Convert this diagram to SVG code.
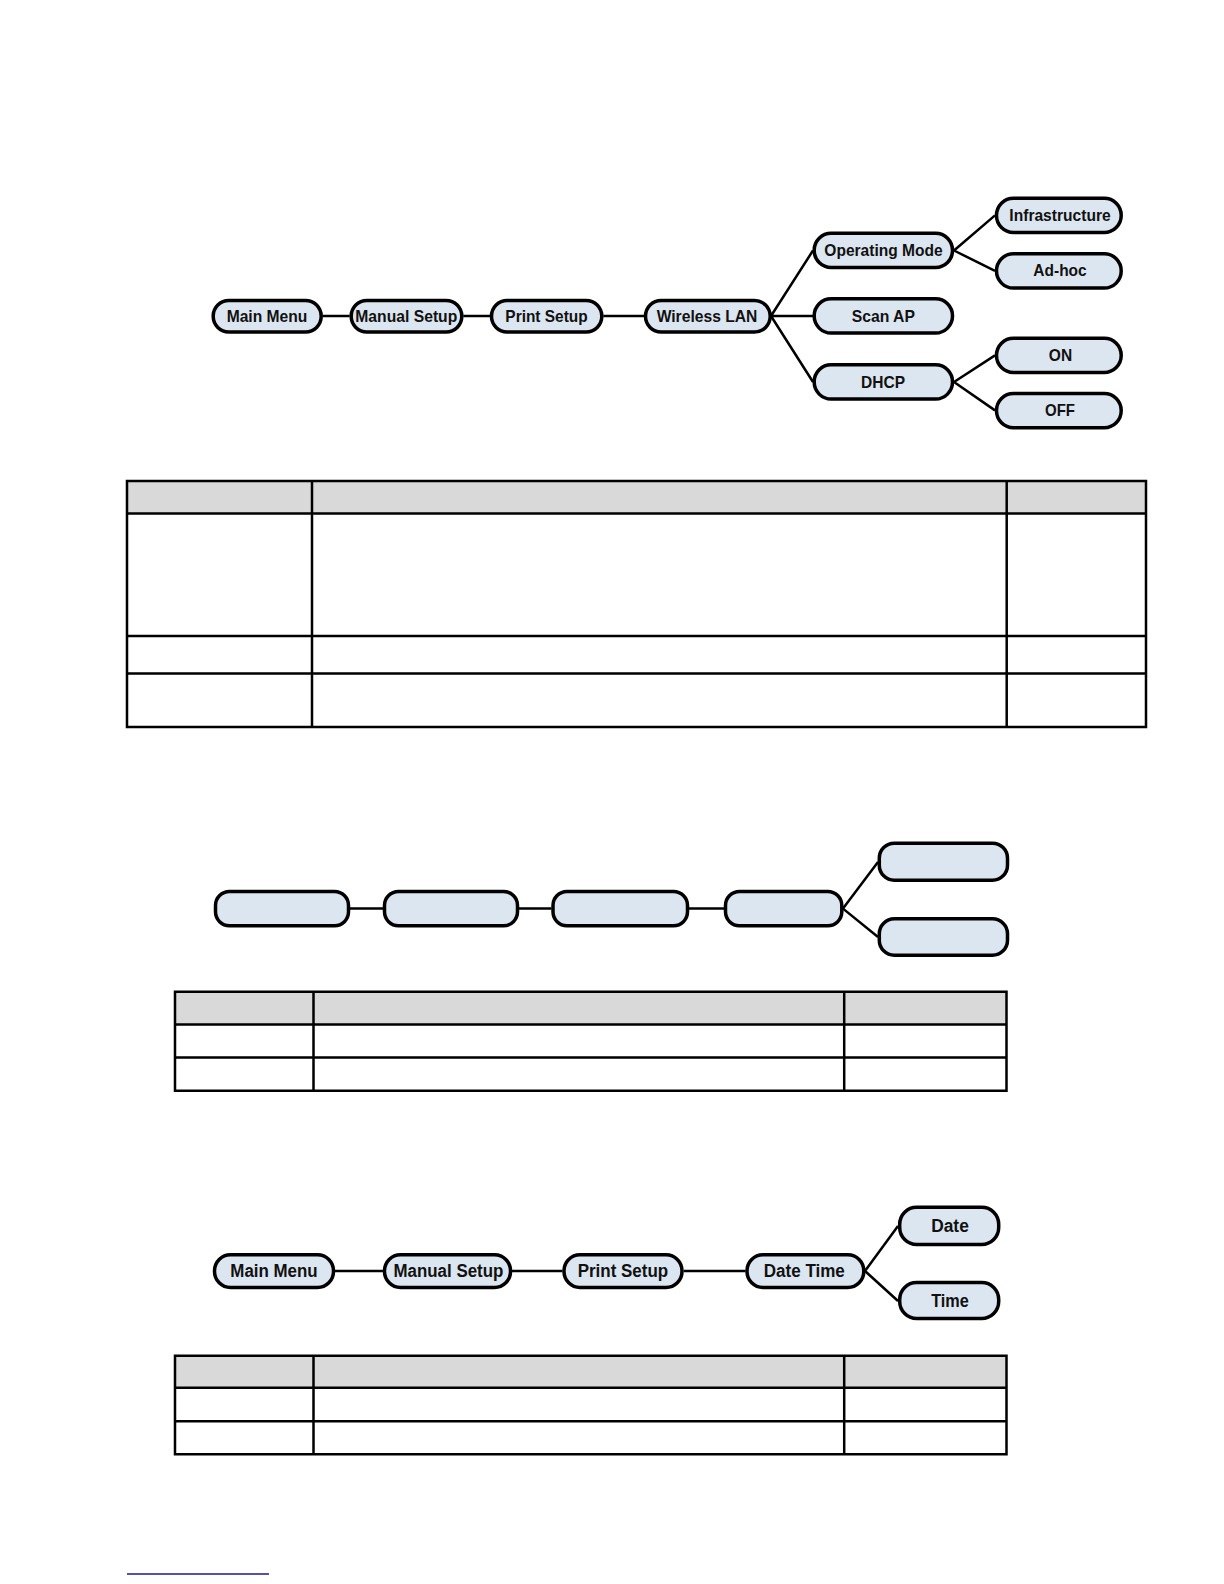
<svg xmlns="http://www.w3.org/2000/svg" width="1224" height="1584" viewBox="0 0 1224 1584">
<style>
.n{fill:#dce6f0;stroke:#000;stroke-width:3.5}
.t{font-family:"Liberation Sans",Arial,sans-serif;font-weight:bold;font-size:16.5px;fill:#111;text-anchor:middle}
.c{stroke:#000;stroke-width:2.5;fill:none}
.g{stroke:#000;stroke-width:2.5;fill:none}
.h{fill:#d9d9d9}
</style>
<rect width="1224" height="1584" fill="#fff"/>

<g id="connectors">
<path class="c" d="M322.7 316H349.7M463.3 316H490M603.3 316H644"/>
<path class="c" d="M771 316L813 250.5M771 316H813M771 316L813 382"/>
<path class="c" d="M954 250.5L995 215.4M954 250.5L995 270.8"/>
<path class="c" d="M954 382L995 355.4M954 382L995 410.4"/>
<path class="c" d="M350 908.6H383M519 908.6H551.5M689 908.6H724"/>
<path class="c" d="M843 908.6L878 862M843 908.6L878 937"/>
<path class="c" d="M335 1271H383M512 1271H562.4M683.8 1271H745.5"/>
<path class="c" d="M865 1271L898 1226M865 1271L898 1301"/>
</g>

<!-- top diagram -->
<g id="t-main"><rect class="n" x="213.2" y="300.5" width="108" height="31.5" rx="15.7"/><text class="t" x="267" y="321.5" textLength="80.7" lengthAdjust="spacingAndGlyphs">Main Menu</text></g>
<g id="t-manual"><rect class="n" x="351.2" y="300.5" width="110.6" height="31.5" rx="15.7"/><text class="t" x="406.3" y="321.5" textLength="102" lengthAdjust="spacingAndGlyphs">Manual Setup</text></g>
<g id="t-print"><rect class="n" x="491.5" y="300.5" width="110.3" height="31.5" rx="15.7"/><text class="t" x="546.5" y="321.5" textLength="82.3" lengthAdjust="spacingAndGlyphs">Print Setup</text></g>
<g id="t-wlan"><rect class="n" x="645.5" y="300.5" width="124.7" height="31.5" rx="15.7"/><text class="t" x="707" y="321.5" textLength="100.7" lengthAdjust="spacingAndGlyphs">Wireless LAN</text></g>
<g id="t-opmode"><rect class="n" x="814.2" y="233.2" width="138.3" height="34.3" rx="17"/><text class="t" x="883.5" y="255.8" textLength="118.3" lengthAdjust="spacingAndGlyphs">Operating Mode</text></g>
<g id="t-scan"><rect class="n" x="814.2" y="298.8" width="138.3" height="34.3" rx="17"/><text class="t" x="883.3" y="321.5" textLength="63.3" lengthAdjust="spacingAndGlyphs">Scan AP</text></g>
<g id="t-dhcp"><rect class="n" x="814.2" y="364.8" width="138.3" height="34.3" rx="17"/><text class="t" x="883" y="387.5" textLength="44" lengthAdjust="spacingAndGlyphs">DHCP</text></g>
<g id="t-infra"><rect class="n" x="996.5" y="198.2" width="124.7" height="34.3" rx="17"/><text class="t" x="1060" y="220.9" textLength="101.3" lengthAdjust="spacingAndGlyphs">Infrastructure</text></g>
<g id="t-adhoc"><rect class="n" x="996.5" y="253.8" width="124.7" height="34.3" rx="17"/><text class="t" x="1060" y="276.4" textLength="53.3" lengthAdjust="spacingAndGlyphs">Ad-hoc</text></g>
<g id="t-on"><rect class="n" x="996.5" y="338.2" width="124.7" height="34.3" rx="17"/><text class="t" x="1060.5" y="360.9" textLength="23.3" lengthAdjust="spacingAndGlyphs">ON</text></g>
<g id="t-off"><rect class="n" x="996.5" y="393.5" width="124.7" height="34.3" rx="17"/><text class="t" x="1060" y="416.1" textLength="30" lengthAdjust="spacingAndGlyphs">OFF</text></g>

<!-- table 1 -->
<g id="table1">
<rect class="h" x="127" y="481" width="1019" height="32.5"/>
<path class="g" d="M127 481H1146V727H127Z M127 513.5H1146M127 636H1146M127 673.5H1146M312 481V727M1006.7 481V727"/>
</g>

<!-- middle diagram -->
<g id="m-1"><rect class="n" x="215.5" y="891.5" width="133" height="34.3" rx="14"/></g>
<g id="m-2"><rect class="n" x="384.5" y="891.5" width="133" height="34.3" rx="14"/></g>
<g id="m-3"><rect class="n" x="553" y="891.5" width="134.5" height="34.3" rx="14"/></g>
<g id="m-4"><rect class="n" x="725.5" y="891.5" width="116.3" height="34.3" rx="14"/></g>
<g id="m-5"><rect class="n" x="879.3" y="843.2" width="128.2" height="37" rx="15"/></g>
<g id="m-6"><rect class="n" x="879.3" y="918.8" width="128.2" height="36.4" rx="15"/></g>

<!-- table 2 -->
<g id="table2">
<rect class="h" x="175" y="991.7" width="831.5" height="32.8"/>
<path class="g" d="M175 991.7H1006.5V1090.7H175Z M175 1024.5H1006.5M175 1057.4H1006.5M313.5 991.7V1090.7M844.2 991.7V1090.7"/>
</g>

<!-- bottom diagram -->
<g id="b-main"><rect class="n" x="214.5" y="1254.8" width="119" height="32.7" rx="16"/><text class="t" x="274" y="1277.2" textLength="87.4" lengthAdjust="spacingAndGlyphs" style="font-size:17.5px">Main Menu</text></g>
<g id="b-manual"><rect class="n" x="384.5" y="1254.8" width="126" height="32.7" rx="16"/><text class="t" x="448.4" y="1277.2" textLength="109.8" lengthAdjust="spacingAndGlyphs" style="font-size:17.5px">Manual Setup</text></g>
<g id="b-print"><rect class="n" x="564" y="1254.8" width="118" height="32.7" rx="16"/><text class="t" x="622.9" y="1277.2" textLength="90.5" lengthAdjust="spacingAndGlyphs" style="font-size:17.5px">Print Setup</text></g>
<g id="b-datetime"><rect class="n" x="747" y="1254.8" width="116.8" height="32.7" rx="16"/><text class="t" x="804.3" y="1277.2" textLength="81.1" lengthAdjust="spacingAndGlyphs" style="font-size:17.5px">Date Time</text></g>
<g id="b-date"><rect class="n" x="899.7" y="1207.2" width="99" height="37.3" rx="17"/><text class="t" x="950" y="1232" textLength="37.6" lengthAdjust="spacingAndGlyphs" style="font-size:17.5px">Date</text></g>
<g id="b-time"><rect class="n" x="899.7" y="1282.5" width="99" height="36" rx="17"/><text class="t" x="950" y="1306.7" textLength="37.6" lengthAdjust="spacingAndGlyphs" style="font-size:17.5px">Time</text></g>

<!-- table 3 -->
<g id="table3">
<rect class="h" x="175" y="1355.7" width="831.5" height="32.1"/>
<path class="g" d="M175 1355.7H1006.5V1454.3H175Z M175 1387.8H1006.5M175 1421.3H1006.5M313.5 1355.7V1454.3M844.2 1355.7V1454.3"/>
</g>

<line x1="127" y1="1574" x2="269" y2="1574" stroke="#1a1a8c" stroke-width="1.5"/>
</svg>
